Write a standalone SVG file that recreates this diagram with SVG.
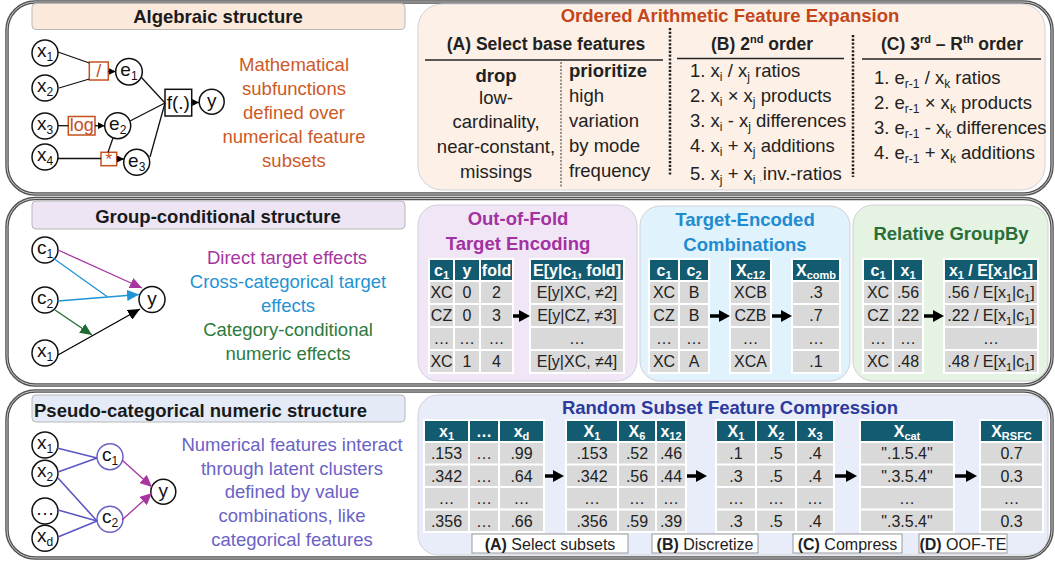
<svg xmlns="http://www.w3.org/2000/svg" width="1055" height="561" viewBox="0 0 1055 561">
<defs>
<style>
text{font-family:"Liberation Sans",Arial,sans-serif}
.ttl{font-size:18.5px;font-weight:bold;fill:#1a1a1a}
.bd{font-size:18.5px;fill:#222}
.h2{font-size:17.5px;font-weight:bold;fill:#222}
.s{font-size:12px}
.sp{font-size:11px}
.nd{fill:#fff;stroke:#111;stroke-width:1.5}
.nl{font-size:19px;text-anchor:middle;fill:#111}
.op{fill:#fff;stroke:#c5501e;stroke-width:1.5}
.opt{fill:#c5501e;text-anchor:middle}
.ln{stroke:#111;stroke-width:1.3;fill:none}
.outer{fill:#fff;stroke:#505050;stroke-width:3.5}
.outer2{fill:none;stroke:#c8c8c8;stroke-width:1}
.tb{stroke:#b8b8b8;stroke-width:1}
.sub{stroke:#d0d0d8;stroke-width:1}
.hc{fill:#135b70}
.dc{fill:#d9d9d9}
.tbg{fill:#fff}
.ht{font-size:16px;font-weight:bold;fill:#fff;text-anchor:middle}
.ct{font-size:16px;fill:#222;text-anchor:middle}
.cs{font-size:11px}
.arr{stroke:#000;stroke-width:3.5;fill:none}
.lab{fill:#fff;stroke:#9a9a9a;stroke-width:1}
.lt{font-size:16px;fill:#222;text-anchor:middle}
</style>
<marker id="sm" markerUnits="userSpaceOnUse" markerWidth="7" markerHeight="7" refX="7" refY="3.5" orient="auto"><path d="M0,0 L7,3.5 L0,7 z" fill="#000"/></marker>
<marker id="big" markerUnits="userSpaceOnUse" markerWidth="11" markerHeight="12" refX="7" refY="6" orient="auto"><path d="M0,0 L11,6 L0,12 z" fill="#000"/></marker>
<marker id="hm" markerUnits="userSpaceOnUse" markerWidth="12" markerHeight="11" refX="12" refY="5.5" orient="auto"><path d="M0,0 L12,5.5 L0,11 z" fill="#a8349f"/></marker>
<marker id="hb" markerUnits="userSpaceOnUse" markerWidth="12" markerHeight="11" refX="12" refY="5.5" orient="auto"><path d="M0,0 L12,5.5 L0,11 z" fill="#1f93d4"/></marker>
<marker id="hg" markerUnits="userSpaceOnUse" markerWidth="12" markerHeight="11" refX="12" refY="5.5" orient="auto"><path d="M0,0 L12,5.5 L0,11 z" fill="#1f6b34"/></marker>
<marker id="hk" markerUnits="userSpaceOnUse" markerWidth="12" markerHeight="11" refX="12" refY="5.5" orient="auto"><path d="M0,0 L12,5.5 L0,11 z" fill="#000"/></marker>
</defs>

<g id="panels">
<rect class="outer" x="7" y="2" width="1045" height="192" rx="28"/>
<rect class="outer2" x="7" y="2" width="1045" height="192" rx="28"/>
<rect class="outer" x="7" y="198.5" width="1045" height="186.5" rx="28"/>
<rect class="outer2" x="7" y="198.5" width="1045" height="186.5" rx="28"/>
<rect class="outer" x="7" y="391" width="1045" height="167" rx="28"/>
<rect class="outer2" x="7" y="391" width="1045" height="167" rx="28"/>
</g>

<!-- Row 1 -->
<g id="title-algebraic">
<rect class="tb" x="32" y="3.5" width="373" height="26" rx="4" fill="#fbe9dc"/>
<text class="ttl" x="218" y="23" text-anchor="middle">Algebraic structure</text>
</g>
<g id="desc-algebraic" fill="#cc5a28" font-size="18.5" text-anchor="middle">
<text x="294" y="71">Mathematical</text>
<text x="294" y="95">subfunctions</text>
<text x="294" y="119">defined over</text>
<text x="294" y="143">numerical feature</text>
<text x="294" y="167">subsets</text>
</g>
<g id="n-x1"><circle class="nd" cx="45" cy="53" r="13"/><text class="nl" x="45" y="57">x<tspan class="s" dy="4">1</tspan></text></g>
<g id="n-x2"><circle class="nd" cx="45" cy="88" r="13"/><text class="nl" x="45" y="92">x<tspan class="s" dy="4">2</tspan></text></g>
<g id="n-x3"><circle class="nd" cx="45" cy="126" r="13"/><text class="nl" x="45" y="130">x<tspan class="s" dy="4">3</tspan></text></g>
<g id="n-x4"><circle class="nd" cx="45" cy="157" r="13"/><text class="nl" x="45" y="161">x<tspan class="s" dy="4">4</tspan></text></g>
<g id="op-div"><rect class="op" x="89.3" y="62" width="19" height="18"/><text class="opt" x="98.8" y="77" font-size="18">/</text></g>
<g id="op-log"><rect class="op" x="68.3" y="116.5" width="26.7" height="18.5"/><text class="opt" x="81.7" y="131" font-size="18">log</text></g>
<g id="op-mul"><rect class="op" x="101" y="152.3" width="15.7" height="13.4"/><text class="opt" x="108.9" y="165" font-size="17">*</text></g>
<g id="n-e1"><circle class="nd" cx="129" cy="71.7" r="13.3"/><text class="nl" x="129" y="76">e<tspan class="s" dy="4">1</tspan></text></g>
<g id="n-e2"><circle class="nd" cx="117.7" cy="125.7" r="13"/><text class="nl" x="117.7" y="130">e<tspan class="s" dy="4">2</tspan></text></g>
<g id="n-e3"><circle class="nd" cx="136.7" cy="162.3" r="13"/><text class="nl" x="136.7" y="166.5">e<tspan class="s" dy="4">3</tspan></text></g>
<g id="n-f"><rect x="165" y="89.3" width="26.7" height="26.7" fill="#fff" stroke="#111" stroke-width="1.5"/><text class="nl" x="178.3" y="109">f(.)</text></g>
<g id="n-y1"><circle class="nd" cx="211.7" cy="101.7" r="12.5"/><text class="nl" x="211.7" y="106.5">y</text></g>

<g id="panel-ordered">
<rect class="sub" x="418" y="4" width="627" height="186" rx="24" fill="#fdf1e7"/>
<text x="730" y="22" text-anchor="middle" font-size="18.5" font-weight="bold" fill="#c5461a">Ordered Arithmetic Feature Expansion</text>
<text class="h2" x="546" y="50" text-anchor="middle">(A) Select base features</text>
<line x1="425" y1="60" x2="663" y2="60" stroke="#222" stroke-width="1.5"/>
<line x1="561" y1="62" x2="561" y2="188" stroke="#333" stroke-width="1" stroke-dasharray="2 1.5"/>
<line x1="670" y1="28" x2="670" y2="176" stroke="#222" stroke-width="2.5" stroke-dasharray="2.2 1.6"/>
<line x1="853" y1="35" x2="853" y2="177" stroke="#222" stroke-width="2.5" stroke-dasharray="2.2 1.6"/>
<g class="bd" text-anchor="middle">
<text x="496" y="82" font-weight="bold">drop</text>
<text x="496" y="104">low-</text>
<text x="496" y="128">cardinality,</text>
<text x="496" y="153">near-constant,</text>
<text x="496" y="178">missings</text>
</g>
<g class="bd">
<text x="569" y="77" font-weight="bold">prioritize</text>
<text x="569" y="102">high</text>
<text x="569" y="127">variation</text>
<text x="569" y="152">by mode</text>
<text x="569" y="177">frequency</text>
</g>
<text class="h2" x="762" y="50" text-anchor="middle">(B) 2<tspan class="sp" dy="-7">nd</tspan><tspan dy="7"> order</tspan></text>
<line x1="677" y1="58.5" x2="844" y2="58.5" stroke="#222" stroke-width="1.5"/>
<g class="bd">
<text x="690" y="77">1. x<tspan class="s" dy="4">i</tspan><tspan dy="-4"> / x</tspan><tspan class="s" dy="4">j</tspan><tspan dy="-4"> ratios</tspan></text>
<text x="690" y="102">2. x<tspan class="s" dy="4">i</tspan><tspan dy="-4"> × x</tspan><tspan class="s" dy="4">j</tspan><tspan dy="-4"> products</tspan></text>
<text x="690" y="127">3. x<tspan class="s" dy="4">i</tspan><tspan dy="-4"> - x</tspan><tspan class="s" dy="4">j</tspan><tspan dy="-4"> differences</tspan></text>
<text x="690" y="152">4. x<tspan class="s" dy="4">i</tspan><tspan dy="-4"> + x</tspan><tspan class="s" dy="4">j</tspan><tspan dy="-4"> additions</tspan></text>
<text x="690" y="180">5. x<tspan class="s" dy="4">j</tspan><tspan dy="-4"> + x</tspan><tspan class="s" dy="4">i</tspan><tspan class="s" fill="#999"> ·</tspan><tspan dy="-4">inv.-ratios</tspan></text>
</g>
<text class="h2" x="952" y="50" text-anchor="middle">(C) 3<tspan class="sp" dy="-7">rd</tspan><tspan dy="7"> – R</tspan><tspan class="sp" dy="-7">th</tspan><tspan dy="7"> order</tspan></text>
<line x1="862" y1="59" x2="1041" y2="59" stroke="#222" stroke-width="1.5"/>
<g class="bd">
<text x="874" y="84">1. e<tspan class="s" dy="4">r-1</tspan><tspan dy="-4"> / x</tspan><tspan class="s" dy="4">k</tspan><tspan dy="-4"> ratios</tspan></text>
<text x="874" y="109">2. e<tspan class="s" dy="4">r-1</tspan><tspan dy="-4"> × x</tspan><tspan class="s" dy="4">k</tspan><tspan dy="-4"> products</tspan></text>
<text x="874" y="134">3. e<tspan class="s" dy="4">r-1</tspan><tspan dy="-4"> - x</tspan><tspan class="s" dy="4">k</tspan><tspan dy="-4"> differences</tspan></text>
<text x="874" y="159">4. e<tspan class="s" dy="4">r-1</tspan><tspan dy="-4"> + x</tspan><tspan class="s" dy="4">k</tspan><tspan dy="-4"> additions</tspan></text>
</g>
</g>

<!-- Row 2 -->
<g id="title-group">
<rect class="tb" x="32" y="201" width="373" height="28" rx="4" fill="#ede4f4"/>
<text class="ttl" x="218" y="223" text-anchor="middle">Group-conditional structure</text>
</g>
<g id="desc-group" font-size="18.5" text-anchor="middle">
<text x="287" y="264" fill="#a8349f">Direct target effects</text>
<text x="288" y="288" fill="#1f93d4">Cross-categorical target</text>
<text x="288" y="312" fill="#1f93d4">effects</text>
<text x="288" y="336" fill="#2e7a3e">Category-conditional</text>
<text x="288" y="360" fill="#2e7a3e">numeric effects</text>
</g>
<g id="n-c1"><circle class="nd" cx="45" cy="250" r="13"/><text class="nl" x="45" y="254">c<tspan class="s" dy="4">1</tspan></text></g>
<g id="n-c2"><circle class="nd" cx="45" cy="300" r="13"/><text class="nl" x="45" y="304">c<tspan class="s" dy="4">2</tspan></text></g>
<g id="n-x1b"><circle class="nd" cx="45" cy="353" r="13"/><text class="nl" x="45" y="357">x<tspan class="s" dy="4">1</tspan></text></g>
<g id="n-y2"><circle class="nd" cx="152" cy="299.5" r="13"/><text class="nl" x="152" y="304.5">y</text></g>

<g id="panel-oof">
<rect class="sub" x="418" y="205" width="219" height="176" rx="20" fill="#f1e6f6"/>
<text x="518" y="225" text-anchor="middle" font-size="18.5" font-weight="bold" fill="#a232a2">Out-of-Fold</text>
<text x="518" y="250" text-anchor="middle" font-size="18.5" font-weight="bold" fill="#a232a2">Target Encoding</text>
<rect class="tbg" x="428" y="258" width="86" height="116"/>
<rect class="hc" x="430" y="260" width="23" height="20"/><rect class="hc" x="455" y="260" width="24" height="20"/><rect class="hc" x="481" y="260" width="31" height="20"/>
<g class="dc">
<rect x="430" y="282" width="23" height="21"/><rect x="455" y="282" width="24" height="21"/><rect x="481" y="282" width="31" height="21"/>
<rect x="430" y="305" width="23" height="21"/><rect x="455" y="305" width="24" height="21"/><rect x="481" y="305" width="31" height="21"/>
<rect x="430" y="328" width="23" height="21"/><rect x="455" y="328" width="24" height="21"/><rect x="481" y="328" width="31" height="21"/>
<rect x="430" y="351" width="23" height="21"/><rect x="455" y="351" width="24" height="21"/><rect x="481" y="351" width="31" height="21"/>
</g>
<text class="ht" x="441.5" y="275.5">c<tspan class="cs" dy="3.5">1</tspan></text>
<text class="ht" x="467" y="275.5">y</text>
<text class="ht" x="496.5" y="275.5">fold</text>
<text class="ct" x="441.5" y="298">XC</text><text class="ct" x="467" y="298">0</text><text class="ct" x="496.5" y="298">2</text>
<text class="ct" x="441.5" y="321">CZ</text><text class="ct" x="467" y="321">0</text><text class="ct" x="496.5" y="321">3</text>
<text class="ct" x="441.5" y="344">…</text><text class="ct" x="467" y="344">…</text><text class="ct" x="496.5" y="344">…</text>
<text class="ct" x="441.5" y="367">XC</text><text class="ct" x="467" y="367">1</text><text class="ct" x="496.5" y="367">4</text>
<rect class="tbg" x="529" y="258" width="96" height="116"/>
<rect class="hc" x="531" y="260" width="92" height="20"/>
<g class="dc"><rect x="531" y="282" width="92" height="21"/><rect x="531" y="305" width="92" height="21"/><rect x="531" y="328" width="92" height="21"/><rect x="531" y="351" width="92" height="21"/></g>
<text class="ht" x="577" y="275.5">E[y|c<tspan class="cs" dy="3.5">1</tspan><tspan dy="-3.5">, fold]</tspan></text>
<text class="ct" x="577" y="298">E[y|XC, ≠2]</text>
<text class="ct" x="577" y="321">E[y|CZ, ≠3]</text>
<text class="ct" x="577" y="344">…</text>
<text class="ct" x="577" y="367">E[y|XC, ≠4]</text>
</g>

<g id="panel-tec">
<rect class="sub" x="640" y="206" width="210" height="175" rx="20" fill="#e0f2fb"/>
<text x="745" y="226" text-anchor="middle" font-size="18.5" font-weight="bold" fill="#1f8bd0">Target-Encoded</text>
<text x="745" y="251" text-anchor="middle" font-size="18.5" font-weight="bold" fill="#1f8bd0">Combinations</text>
<rect class="tbg" x="648" y="258" width="62" height="116"/>
<rect class="hc" x="650" y="260" width="28" height="20"/><rect class="hc" x="680" y="260" width="28" height="20"/>
<g class="dc">
<rect x="650" y="282" width="28" height="21"/><rect x="680" y="282" width="28" height="21"/>
<rect x="650" y="305" width="28" height="21"/><rect x="680" y="305" width="28" height="21"/>
<rect x="650" y="328" width="28" height="21"/><rect x="680" y="328" width="28" height="21"/>
<rect x="650" y="351" width="28" height="21"/><rect x="680" y="351" width="28" height="21"/>
</g>
<text class="ht" x="664" y="275.5">c<tspan class="cs" dy="3.5">1</tspan></text>
<text class="ht" x="694" y="275.5">c<tspan class="cs" dy="3.5">2</tspan></text>
<text class="ct" x="664" y="298">XC</text><text class="ct" x="694" y="298">B</text>
<text class="ct" x="664" y="321">CZ</text><text class="ct" x="694" y="321">B</text>
<text class="ct" x="664" y="344">…</text><text class="ct" x="694" y="344">…</text>
<text class="ct" x="664" y="367">XC</text><text class="ct" x="694" y="367">A</text>
<rect class="tbg" x="729" y="258" width="43" height="116"/>
<rect class="hc" x="731" y="260" width="39" height="20"/>
<g class="dc"><rect x="731" y="282" width="39" height="21"/><rect x="731" y="305" width="39" height="21"/><rect x="731" y="328" width="39" height="21"/><rect x="731" y="351" width="39" height="21"/></g>
<text class="ht" x="750.5" y="275.5">X<tspan class="cs" dy="3.5">c12</tspan></text>
<text class="ct" x="750.5" y="298">XCB</text>
<text class="ct" x="750.5" y="321">CZB</text>
<text class="ct" x="750.5" y="344">…</text>
<text class="ct" x="750.5" y="367">XCA</text>
<rect class="tbg" x="791" y="258" width="50" height="116"/>
<rect class="hc" x="793" y="260" width="46" height="20"/>
<g class="dc"><rect x="793" y="282" width="46" height="21"/><rect x="793" y="305" width="46" height="21"/><rect x="793" y="328" width="46" height="21"/><rect x="793" y="351" width="46" height="21"/></g>
<text class="ht" x="816" y="275.5">X<tspan class="cs" dy="3.5">comb</tspan></text>
<text class="ct" x="816" y="298">.3</text>
<text class="ct" x="816" y="321">.7</text>
<text class="ct" x="816" y="344">…</text>
<text class="ct" x="816" y="367">.1</text>
</g>

<g id="panel-rgb">
<rect class="sub" x="853" y="205" width="195" height="176" rx="20" fill="#e5f3e3"/>
<text x="951" y="240" text-anchor="middle" font-size="18.5" font-weight="bold" fill="#2a6e38">Relative GroupBy</text>
<rect class="tbg" x="862" y="258" width="62" height="116"/>
<rect class="hc" x="864" y="260" width="28" height="20"/><rect class="hc" x="894" y="260" width="28" height="20"/>
<g class="dc">
<rect x="864" y="282" width="28" height="21"/><rect x="894" y="282" width="28" height="21"/>
<rect x="864" y="305" width="28" height="21"/><rect x="894" y="305" width="28" height="21"/>
<rect x="864" y="328" width="28" height="21"/><rect x="894" y="328" width="28" height="21"/>
<rect x="864" y="351" width="28" height="21"/><rect x="894" y="351" width="28" height="21"/>
</g>
<text class="ht" x="878" y="275.5">c<tspan class="cs" dy="3.5">1</tspan></text>
<text class="ht" x="908" y="275.5">x<tspan class="cs" dy="3.5">1</tspan></text>
<text class="ct" x="878" y="298">XC</text><text class="ct" x="908" y="298">.56</text>
<text class="ct" x="878" y="321">CZ</text><text class="ct" x="908" y="321">.22</text>
<text class="ct" x="878" y="344">…</text><text class="ct" x="908" y="344">…</text>
<text class="ct" x="878" y="367">XC</text><text class="ct" x="908" y="367">.48</text>
<rect class="tbg" x="943" y="258" width="96" height="116"/>
<rect class="hc" x="945" y="260" width="92" height="20"/>
<g class="dc"><rect x="945" y="282" width="92" height="21"/><rect x="945" y="305" width="92" height="21"/><rect x="945" y="328" width="92" height="21"/><rect x="945" y="351" width="92" height="21"/></g>
<text class="ht" x="991" y="275.5">x<tspan class="cs" dy="3.5">1</tspan><tspan dy="-3.5"> / E[x</tspan><tspan class="cs" dy="3.5">1</tspan><tspan dy="-3.5">|c</tspan><tspan class="cs" dy="3.5">1</tspan><tspan dy="-3.5">]</tspan></text>
<text class="ct" x="991" y="298">.56 / E[x<tspan class="cs" dy="3.5">1</tspan><tspan dy="-3.5">|c</tspan><tspan class="cs" dy="3.5">1</tspan><tspan dy="-3.5">]</tspan></text>
<text class="ct" x="991" y="321">.22 / E[x<tspan class="cs" dy="3.5">1</tspan><tspan dy="-3.5">|c</tspan><tspan class="cs" dy="3.5">1</tspan><tspan dy="-3.5">]</tspan></text>
<text class="ct" x="991" y="344">…</text>
<text class="ct" x="991" y="367">.48 / E[x<tspan class="cs" dy="3.5">1</tspan><tspan dy="-3.5">|c</tspan><tspan class="cs" dy="3.5">1</tspan><tspan dy="-3.5">]</tspan></text>
</g>

<!-- Row 3 -->
<g id="title-pseudo">
<rect class="tb" x="32" y="395" width="373" height="27" rx="4" fill="#e4ebf7"/>
<text class="ttl" x="34" y="416.5">Pseudo-categorical numeric structure</text>
</g>
<g id="desc-pseudo" font-size="18.5" text-anchor="middle" fill="#6a62c6">
<text x="292" y="451">Numerical features interact</text>
<text x="292" y="474.5">through latent clusters</text>
<text x="292" y="498">defined by value</text>
<text x="292" y="522">combinations, like</text>
<text x="292" y="546">categorical features</text>
</g>
<g id="n-x1c"><circle class="nd" cx="45" cy="445" r="13"/><text class="nl" x="45" y="449">x<tspan class="s" dy="4">1</tspan></text></g>
<g id="n-x2c"><circle class="nd" cx="45" cy="473.3" r="13"/><text class="nl" x="45" y="477.3">x<tspan class="s" dy="4">2</tspan></text></g>
<g id="n-dots"><circle class="nd" cx="45" cy="511" r="13"/><text class="nl" x="45" y="515" font-size="17">…</text></g>
<g id="n-xd"><circle class="nd" cx="45" cy="538.3" r="13"/><text class="nl" x="45" y="542.3">x<tspan class="s" dy="4">d</tspan></text></g>
<g id="n-c1c"><circle cx="110" cy="456.7" r="13" fill="#fff" stroke="#6a62c6" stroke-width="1.5"/><text class="nl" x="110" y="460.7" fill="#6a62c6">c<tspan class="s" dy="4">1</tspan></text></g>
<g id="n-c2c"><circle cx="110" cy="519.3" r="13" fill="#fff" stroke="#6a62c6" stroke-width="1.5"/><text class="nl" x="110" y="523.3" fill="#6a62c6">c<tspan class="s" dy="4">2</tspan></text></g>
<g id="n-y3"><circle class="nd" cx="163.3" cy="491.7" r="12.5"/><text class="nl" x="163.3" y="496.5">y</text></g>

<g id="panel-rsfc">
<rect class="sub" x="418" y="395" width="630" height="160" rx="20" fill="#e9edfa"/>
<text x="730" y="413.5" text-anchor="middle" font-size="18.5" font-weight="bold" fill="#2d3a9c">Random Subset Feature Compression</text>
<rect class="tbg" x="423" y="419" width="122" height="114"/>
<rect class="hc" x="425" y="421" width="43" height="20"/><rect class="hc" x="470" y="421" width="28" height="20"/><rect class="hc" x="500" y="421" width="43" height="20"/>
<g class="dc">
<rect x="425" y="443" width="43" height="20.5"/><rect x="470" y="443" width="28" height="20.5"/><rect x="500" y="443" width="43" height="20.5"/>
<rect x="425" y="465.5" width="43" height="20.5"/><rect x="470" y="465.5" width="28" height="20.5"/><rect x="500" y="465.5" width="43" height="20.5"/>
<rect x="425" y="488" width="43" height="20.5"/><rect x="470" y="488" width="28" height="20.5"/><rect x="500" y="488" width="43" height="20.5"/>
<rect x="425" y="510.5" width="43" height="20.5"/><rect x="470" y="510.5" width="28" height="20.5"/><rect x="500" y="510.5" width="43" height="20.5"/>
</g>
<text class="ht" x="446.5" y="436.5">x<tspan class="cs" dy="3.5">1</tspan></text>
<text class="ht" x="484" y="436.5">…</text>
<text class="ht" x="521.5" y="436.5">x<tspan class="cs" dy="3.5">d</tspan></text>
<text class="ct" x="446.5" y="459">.153</text><text class="ct" x="484" y="459">…</text><text class="ct" x="521.5" y="459">.99</text>
<text class="ct" x="446.5" y="481.5">.342</text><text class="ct" x="484" y="481.5">…</text><text class="ct" x="521.5" y="481.5">.64</text>
<text class="ct" x="446.5" y="504">…</text><text class="ct" x="484" y="504">…</text><text class="ct" x="521.5" y="504">…</text>
<text class="ct" x="446.5" y="526.5">.356</text><text class="ct" x="484" y="526.5">…</text><text class="ct" x="521.5" y="526.5">.66</text>

<rect class="tbg" x="565" y="419" width="122" height="114"/>
<rect class="hc" x="567" y="421" width="50" height="20"/><rect class="hc" x="619" y="421" width="36" height="20"/><rect class="hc" x="657" y="421" width="28" height="20"/>
<g class="dc">
<rect x="567" y="443" width="50" height="20.5"/><rect x="619" y="443" width="36" height="20.5"/><rect x="657" y="443" width="28" height="20.5"/>
<rect x="567" y="465.5" width="50" height="20.5"/><rect x="619" y="465.5" width="36" height="20.5"/><rect x="657" y="465.5" width="28" height="20.5"/>
<rect x="567" y="488" width="50" height="20.5"/><rect x="619" y="488" width="36" height="20.5"/><rect x="657" y="488" width="28" height="20.5"/>
<rect x="567" y="510.5" width="50" height="20.5"/><rect x="619" y="510.5" width="36" height="20.5"/><rect x="657" y="510.5" width="28" height="20.5"/>
</g>
<text class="ht" x="592" y="436.5">X<tspan class="cs" dy="3.5">1</tspan></text>
<text class="ht" x="637" y="436.5">X<tspan class="cs" dy="3.5">6</tspan></text>
<text class="ht" x="671" y="436.5">x<tspan class="cs" dy="3.5">12</tspan></text>
<text class="ct" x="592" y="459">.153</text><text class="ct" x="637" y="459">.52</text><text class="ct" x="671" y="459">.46</text>
<text class="ct" x="592" y="481.5">.342</text><text class="ct" x="637" y="481.5">.56</text><text class="ct" x="671" y="481.5">.44</text>
<text class="ct" x="592" y="504">…</text><text class="ct" x="637" y="504">…</text><text class="ct" x="671" y="504">…</text>
<text class="ct" x="592" y="526.5">.356</text><text class="ct" x="637" y="526.5">.59</text><text class="ct" x="671" y="526.5">.39</text>

<rect class="tbg" x="715" y="419" width="120" height="114"/>
<rect class="hc" x="717" y="421" width="38" height="20"/><rect class="hc" x="757" y="421" width="38" height="20"/><rect class="hc" x="797" y="421" width="36" height="20"/>
<g class="dc">
<rect x="717" y="443" width="38" height="20.5"/><rect x="757" y="443" width="38" height="20.5"/><rect x="797" y="443" width="36" height="20.5"/>
<rect x="717" y="465.5" width="38" height="20.5"/><rect x="757" y="465.5" width="38" height="20.5"/><rect x="797" y="465.5" width="36" height="20.5"/>
<rect x="717" y="488" width="38" height="20.5"/><rect x="757" y="488" width="38" height="20.5"/><rect x="797" y="488" width="36" height="20.5"/>
<rect x="717" y="510.5" width="38" height="20.5"/><rect x="757" y="510.5" width="38" height="20.5"/><rect x="797" y="510.5" width="36" height="20.5"/>
</g>
<text class="ht" x="736" y="436.5">X<tspan class="cs" dy="3.5">1</tspan></text>
<text class="ht" x="776" y="436.5">X<tspan class="cs" dy="3.5">2</tspan></text>
<text class="ht" x="815" y="436.5">x<tspan class="cs" dy="3.5">3</tspan></text>
<text class="ct" x="736" y="459">.1</text><text class="ct" x="776" y="459">.5</text><text class="ct" x="815" y="459">.4</text>
<text class="ct" x="736" y="481.5">.3</text><text class="ct" x="776" y="481.5">.5</text><text class="ct" x="815" y="481.5">.4</text>
<text class="ct" x="736" y="504">…</text><text class="ct" x="776" y="504">…</text><text class="ct" x="815" y="504">…</text>
<text class="ct" x="736" y="526.5">.3</text><text class="ct" x="776" y="526.5">.5</text><text class="ct" x="815" y="526.5">.4</text>

<rect class="tbg" x="859" y="419" width="96" height="114"/>
<rect class="hc" x="861" y="421" width="92" height="20"/>
<g class="dc"><rect x="861" y="443" width="92" height="20.5"/><rect x="861" y="465.5" width="92" height="20.5"/><rect x="861" y="488" width="92" height="20.5"/><rect x="861" y="510.5" width="92" height="20.5"/></g>
<text class="ht" x="907" y="436.5">X<tspan class="cs" dy="3.5">cat</tspan></text>
<text class="ct" x="907" y="459">".1.5.4"</text>
<text class="ct" x="907" y="481.5">".3.5.4"</text>
<text class="ct" x="907" y="504">…</text>
<text class="ct" x="907" y="526.5">".3.5.4"</text>

<rect class="tbg" x="979" y="419" width="65" height="114"/>
<rect class="hc" x="981" y="421" width="61" height="20"/>
<g class="dc"><rect x="981" y="443" width="61" height="20.5"/><rect x="981" y="465.5" width="61" height="20.5"/><rect x="981" y="488" width="61" height="20.5"/><rect x="981" y="510.5" width="61" height="20.5"/></g>
<text class="ht" x="1011.5" y="436.5">X<tspan class="cs" dy="3.5">RSFC</tspan></text>
<text class="ct" x="1011.5" y="459">0.7</text>
<text class="ct" x="1011.5" y="481.5">0.3</text>
<text class="ct" x="1011.5" y="504">…</text>
<text class="ct" x="1011.5" y="526.5">0.3</text>

<rect class="lab" x="472" y="534" width="156" height="19"/>
<text class="lt" x="550" y="549.5"><tspan font-weight="bold">(A)</tspan> Select subsets</text>
<rect class="lab" x="652" y="534" width="106" height="19"/>
<text class="lt" x="705" y="549.5"><tspan font-weight="bold">(B)</tspan> Discretize</text>
<rect class="lab" x="793" y="534" width="109" height="19"/>
<text class="lt" x="847.5" y="549.5"><tspan font-weight="bold">(C)</tspan> Compress</text>
<rect class="lab" x="919" y="534" width="88" height="19"/>
<text class="lt" x="963" y="549.5"><tspan font-weight="bold">(D)</tspan> OOF-TE</text>
</g>

<g id="connectors">
<!-- row 1 -->
<path class="ln" d="M58,52 L89.3,63"/>
<path class="ln" d="M59,88 L89.3,79"/>
<path class="ln" d="M108.3,71.5 L115.7,71.5" marker-end="url(#sm)"/>
<path class="ln" d="M58,125.7 L68.3,125.7"/>
<path class="ln" d="M95,125.7 L104.7,125.7" marker-end="url(#sm)"/>
<path class="ln" d="M58,158.5 L101,158.5"/>
<path class="ln" d="M113,138 L108,152.3"/>
<path class="ln" d="M116.7,159 L124,159" marker-end="url(#sm)"/>
<path class="ln" d="M141,77 L165,103"/>
<path class="ln" d="M130,121 L165,103"/>
<path class="ln" d="M150,157 L165,103"/>
<path class="ln" d="M191.7,102.5 L199.2,102.5" marker-end="url(#sm)"/>
<!-- row 2 -->
<path d="M58,250 L142,288" stroke="#a8349f" stroke-width="1.3" fill="none" marker-end="url(#hm)"/>
<path d="M53,258 L107,296.5" stroke="#1f93d4" stroke-width="1.3" fill="none"/>
<path d="M58,301 L139,294.5" stroke="#1f93d4" stroke-width="1.3" fill="none" marker-end="url(#hb)"/>
<path d="M55,310 L92,335" stroke="#1f6b34" stroke-width="1.3" fill="none" marker-end="url(#hg)"/>
<path d="M58,355 L140,309" stroke="#000" stroke-width="1.3" fill="none" marker-end="url(#hk)"/>
<path class="arr" d="M513,316 L526,316" marker-end="url(#big)"/>
<path class="arr" d="M710,316 L726,316" marker-end="url(#big)"/>
<path class="arr" d="M772,316 L788,316" marker-end="url(#big)"/>
<path class="arr" d="M924,316 L940,316" marker-end="url(#big)"/>
<!-- row 3 -->
<g stroke="#5a56c2" stroke-width="1.6" fill="none">
<path d="M57,448 L97,458"/>
<path d="M58,472 L97,458"/>
<path d="M58,478 L97,521"/>
<path d="M58,510 L97,521"/>
<path d="M58,537 L97,521"/>
</g>
<path d="M122,460 L152,487" stroke="#a8349f" stroke-width="1.3" fill="none" marker-end="url(#hm)"/>
<path d="M122,520 L152,493" stroke="#a8349f" stroke-width="1.3" fill="none" marker-end="url(#hm)"/>
<path class="arr" d="M545,476 L560,476" marker-end="url(#big)"/>
<path class="arr" d="M687,476 L703,476" marker-end="url(#big)"/>
<path class="arr" d="M835,476 L853,476" marker-end="url(#big)"/>
<path class="arr" d="M955,476 L973,476" marker-end="url(#big)"/>
</g>
</svg>
